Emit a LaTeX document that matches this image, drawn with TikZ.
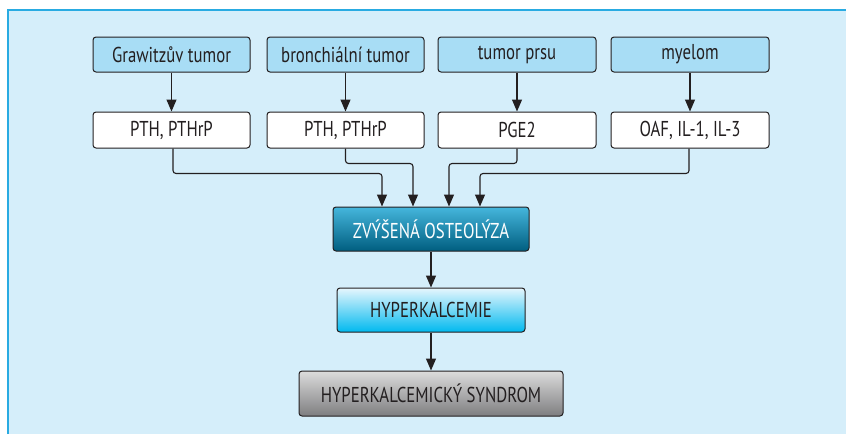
\documentclass[tikz,border=0pt]{standalone}
\usepackage{fontspec}
\setmainfont[FakeStretch=0.78]{PT Sans}
\usetikzlibrary{arrows.meta}
\definecolor{panel}{HTML}{D5EEFA}
\definecolor{panelline}{HTML}{29ABE2}
\definecolor{topfill}{HTML}{A8DDF5}
\definecolor{ink}{HTML}{231F20}
\definecolor{zvtop}{HTML}{45B6DC}
\definecolor{zvbot}{HTML}{005E80}
\definecolor{hytop}{HTML}{E6F6FD}
\definecolor{hybot}{HTML}{00B9EF}
\definecolor{sytop}{HTML}{DCDCDC}
\definecolor{sybot}{HTML}{7E7E80}
\tikzset{
  box/.style={draw=ink, line width=1pt, rounded corners=3pt, inner sep=0pt,
    text=ink, font=\fontsize{21.5}{24}\selectfont},
  srcbox/.style={box, fill=topfill, minimum height=35pt},
  medbox/.style={box, fill=white, minimum height=36pt},
  conn/.style={draw=ink, line width=1.1pt, rounded corners=3pt,
    -{Triangle[width=10pt,length=12pt]}},
}
\begin{document}
\begin{tikzpicture}[x=1pt,y=-1pt]
\useasboundingbox (0,0) rectangle (846,434);
\fill[white] (0,0) rectangle (846,434);
\fill[panel] (8,10) rectangle (846,434);
\draw[panelline, line width=1.2pt] (8,434) -- (8,10) -- (846,10);

\node[srcbox, minimum width=157pt] (t1) at (171.5,54.5) {Grawitzův tumor};
\node[srcbox, minimum width=157pt] (t2) at (345.5,54.5) {bronchiální tumor};
\node[srcbox, minimum width=158pt] (t3) at (517,54.5) {tumor prsu};
\node[srcbox, minimum width=158pt] (t4) at (690,54.5) {myelom};

\node[medbox, minimum width=157pt] (r1) at (171.5,130) {PTH, PTHrP};
\node[medbox, minimum width=157pt] (r2) at (345.5,130) {PTH, PTHrP};
\node[medbox, minimum width=158pt] (r3) at (517,130) {PGE2};
\node[medbox, minimum width=158pt] (r4) at (690,130) {OAF, IL-1, IL-3};

\node[box, minimum width=196pt, minimum height=44pt, text=white,
  top color=zvtop, bottom color=zvbot] (zv) at (431,229) {ZVÝŠENÁ OSTEOLÝZA};
\node[box, minimum width=188pt, minimum height=44pt,
  top color=hytop, bottom color=hybot] (hy) at (431,310) {HYPERKALCEMIE};
\node[box, minimum width=264pt, minimum height=45pt,
  top color=sytop, bottom color=sybot] (sy) at (431,393.5) {HYPERKALCEMICKÝ SYNDROM};

\foreach \i in {1,2,3,4} {
  \draw[conn] (t\i.south) -- (r\i.north);
}
\draw[conn] ([xshift=1.5pt]r1.south) -- ++(0,25) -| ([xshift=-49pt]zv.north);
\draw[conn] (r2.south) -- ++(0,15) -| ([xshift=-18pt]zv.north);
\draw[conn] (r3.south) -- ++(0,15) -| ([xshift=18pt]zv.north);
\draw[conn] ([xshift=-1pt]r4.south) -- ++(0,25) -| ([xshift=49pt]zv.north);
\draw[conn] (zv.south) -- (hy.north);
\draw[conn] (hy.south) -- (sy.north);
\end{tikzpicture}
\end{document}
